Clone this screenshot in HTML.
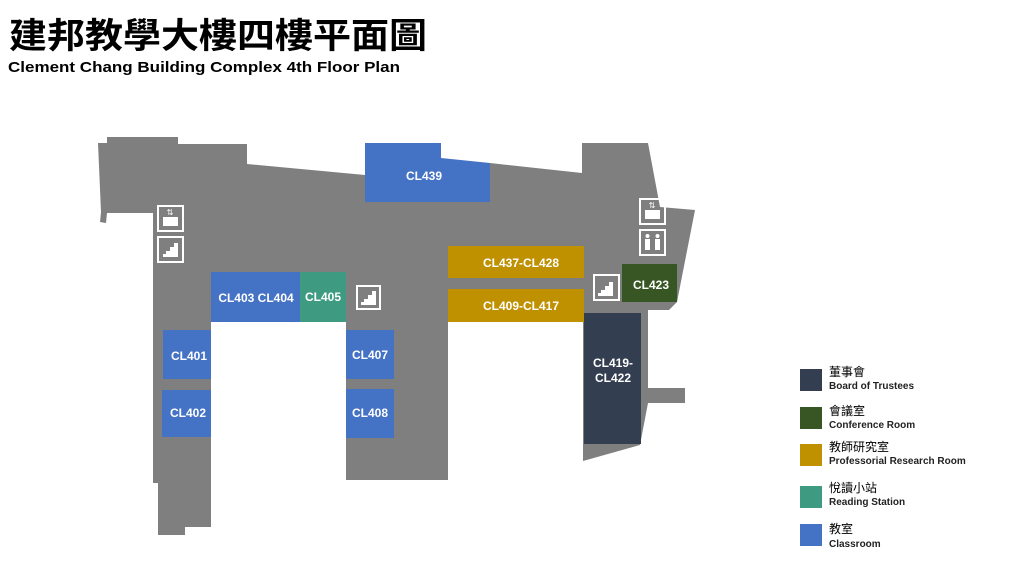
<!DOCTYPE html>
<html><head><meta charset="utf-8"><style>
body{margin:0;background:#fff;width:1024px;height:576px;overflow:hidden;}
svg{display:block}
.r{font-family:"Liberation Sans",Arial,sans-serif;font-weight:bold;font-size:12px;fill:#fff;text-anchor:middle}
.cj{font-family:"Liberation Sans","Noto Sans CJK TC",sans-serif;font-size:12px;fill:#000}
.en{font-family:"Liberation Sans",sans-serif;font-size:10px;font-weight:bold;fill:#222}
</style></head><body>
<svg width="1024" height="576" viewBox="0 0 1024 576">
<text x="9" y="48" font-family="'Liberation Sans','Noto Sans CJK TC',sans-serif" font-size="35" font-weight="bold" fill="#000" textLength="418" lengthAdjust="spacingAndGlyphs">建邦教學大樓四樓平面圖</text>
<text x="8" y="72" font-family="'Liberation Sans',sans-serif" font-size="15" font-weight="bold" fill="#000" textLength="392" lengthAdjust="spacingAndGlyphs">Clement Chang Building  Complex 4th Floor Plan</text>

<polygon fill="#7f7f7f" points="98,143 107,143 107,137 178,137 178,144 247,144 247,164 365,175 441,175 490,163 582,173 582,143 648,143 660,207 695,210 677,302 669,310 648,310 648,388 685,388 685,403 648,403 640,445 583,461 583,322 448,322 448,480 346,480 346,322 211,322 211,527 185,527 185,535 158,535 158,483 153,483 153,213 107,213 106,223 100,222 101,212"/>

<polygon fill="#4472c4" points="365,143 441,143 441,158 490,163 490,202 365,202"/>
<text class="r" x="424" y="180">CL439</text>
<rect x="211" y="272" width="89" height="50" fill="#4472c4"/>
<text class="r" x="256" y="302">CL403  CL404</text>
<rect x="300" y="272" width="46" height="50" fill="#3f9a82"/>
<text class="r" x="323" y="301">CL405</text>
<rect x="163" y="330" width="48" height="49" fill="#4472c4"/>
<text class="r" x="189" y="360">CL401</text>
<rect x="162" y="390" width="49" height="47" fill="#4472c4"/>
<text class="r" x="188" y="417">CL402</text>
<rect x="346" y="330" width="48" height="49" fill="#4472c4"/>
<text class="r" x="370" y="359">CL407</text>
<rect x="346" y="389" width="48" height="49" fill="#4472c4"/>
<text class="r" x="370" y="417">CL408</text>
<rect x="448" y="246" width="136" height="32" fill="#bf9000"/>
<text class="r" x="521" y="267">CL437-CL428</text>
<rect x="448" y="289" width="136" height="33" fill="#bf9000"/>
<text class="r" x="521" y="310">CL409-CL417</text>
<rect x="622" y="264" width="55" height="38" fill="#375623"/>
<text class="r" x="651" y="289">CL423</text>
<rect x="584" y="313" width="57" height="131" fill="#333f50"/>
<text class="r" x="613" y="367">CL419-</text>
<text class="r" x="613" y="382">CL422</text>

<g fill="none" stroke="#fff" stroke-width="2">
<rect x="158" y="206" width="25" height="25"/>
<rect x="158" y="237" width="25" height="25"/>
<rect x="357" y="286" width="23" height="23"/>
<rect x="640" y="199" width="25" height="25"/>
<rect x="640" y="230" width="25" height="25"/>
<rect x="594" y="275" width="25" height="25"/>
</g>
<g fill="#fff">
<rect x="163" y="217" width="15" height="9"/>
<polygon points="163,257 178,257 178,243 174,243 174,247 170,247 170,251 166,251 166,254 163,254"/>
<polygon points="361,305 376,305 376,291 372,291 372,295 368,295 368,299 364,299 364,302 361,302"/>
<rect x="645" y="210" width="15" height="9"/>
<polygon points="598,296 613,296 613,282 609,282 609,286 605,286 605,290 601,290 601,293 598,293"/>
<rect x="645" y="239" width="5" height="11"/><rect x="655" y="239" width="5" height="11"/>
<circle cx="647.5" cy="236" r="2"/><circle cx="657.5" cy="236" r="2"/>
<text x="170" y="215" font-size="8" text-anchor="middle" font-family="DejaVu Sans">⇅</text>
<text x="652" y="208" font-size="8" text-anchor="middle" font-family="DejaVu Sans">⇅</text>
</g>

<rect x="800" y="369" width="22" height="22" fill="#333f50"/>
<text class="cj" x="829" y="376">董事會</text><text class="en" x="829" y="389">Board of Trustees</text>
<rect x="800" y="407" width="22" height="22" fill="#375623"/>
<text class="cj" x="829" y="415">會議室</text><text class="en" x="829" y="428">Conference Room</text>
<rect x="800" y="444" width="22" height="22" fill="#bf9000"/>
<text class="cj" x="829" y="451">教師研究室</text><text class="en" x="829" y="464">Professorial Research Room</text>
<rect x="800" y="486" width="22" height="22" fill="#3f9a82"/>
<text class="cj" x="829" y="492">悅讀小站</text><text class="en" x="829" y="505">Reading Station</text>
<rect x="800" y="524" width="22" height="22" fill="#4472c4"/>
<text class="cj" x="829" y="533">教室</text><text class="en" x="829" y="547">Classroom</text>
</svg>
</body></html>
